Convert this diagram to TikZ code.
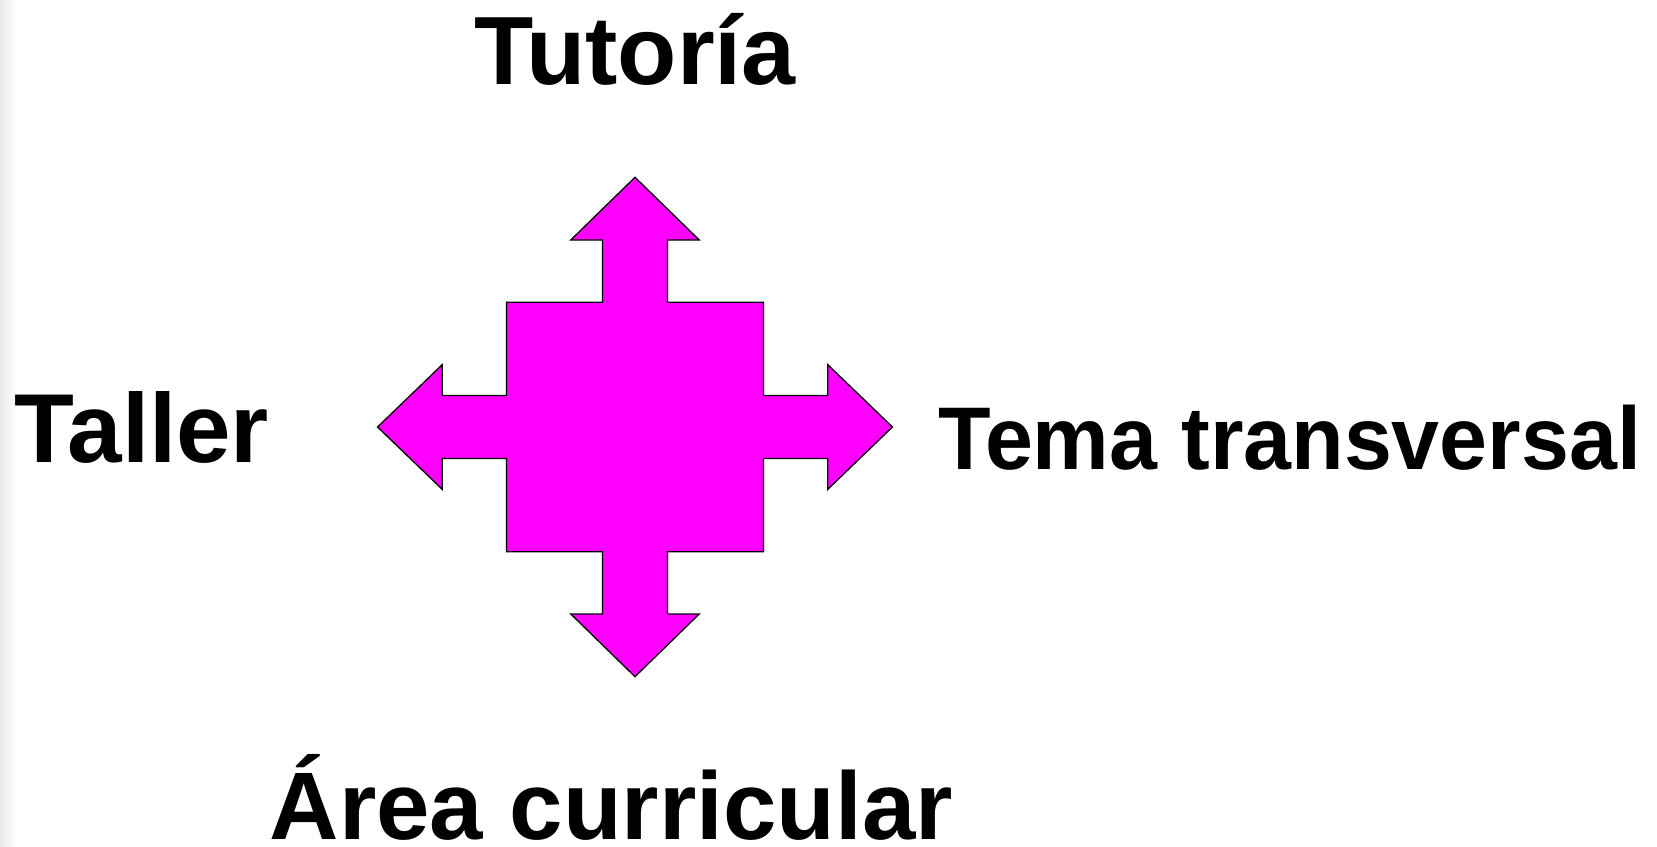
\documentclass[tikz,border=0pt]{standalone}
\usepackage{fontspec}
\setmainfont{Liberation Sans}
\usepackage{tikz}

\definecolor{crossmag}{RGB}{255,0,255}

\tikzset{
  label/.style={inner sep=0pt, anchor=base, font=\bfseries}
}

\begin{document}
\begin{tikzpicture}[x=1pt,y=-1pt]
  \useasboundingbox (0,0) rectangle (1657,846);
  % faint shadow strip at the left edge
  \shade[left color=black!9, right color=white] (0,0) rectangle (16,846);

  % four-way arrow
  \begin{scope}[shift={(635,427)}, x=1.031pt, y=1pt]
    \draw[fill=crossmag, line width=1.3pt, line join=miter]
      (0,249.7) -- (-62.3,187) -- (-31.5,187) -- (-31.5,124.7) -- (-124.7,124.7)
      -- (-124.7,31.5) -- (-187,31.5) -- (-187,62.3) -- (-249.7,0) -- (-187,-62.3)
      -- (-187,-31.5) -- (-124.7,-31.5) -- (-124.7,-124.7) -- (-31.5,-124.7)
      -- (-31.5,-187) -- (-62.3,-187) -- (0,-249.7) -- (62.3,-187) -- (31.5,-187)
      -- (31.5,-124.7) -- (124.7,-124.7) -- (124.7,-31.5) -- (187,-31.5)
      -- (187,-62.3) -- (249.7,0) -- (187,62.3) -- (187,31.5) -- (124.7,31.5)
      -- (124.7,124.7) -- (31.5,124.7) -- (31.5,187) -- (62.3,187) -- cycle;
  \end{scope}

  % labels round the arrow
  \node[label, font=\fontsize{97}{110}\selectfont\bfseries] (tutoria) at (635,84.5) {Tutoría};
  \node[label, font=\fontsize{98}{110}\selectfont\bfseries] (taller) at (142,462.9) {Taller};
  \node[label, font=\fontsize{89}{110}\selectfont\bfseries] (tema) at (1290,469) {\scalebox{0.968}[1]{Tema transversal}};
  \node[label, font=\fontsize{96}{110}\selectfont\bfseries] (area) at (611.4,839.3) {Área curricular};
\end{tikzpicture}
\end{document}
